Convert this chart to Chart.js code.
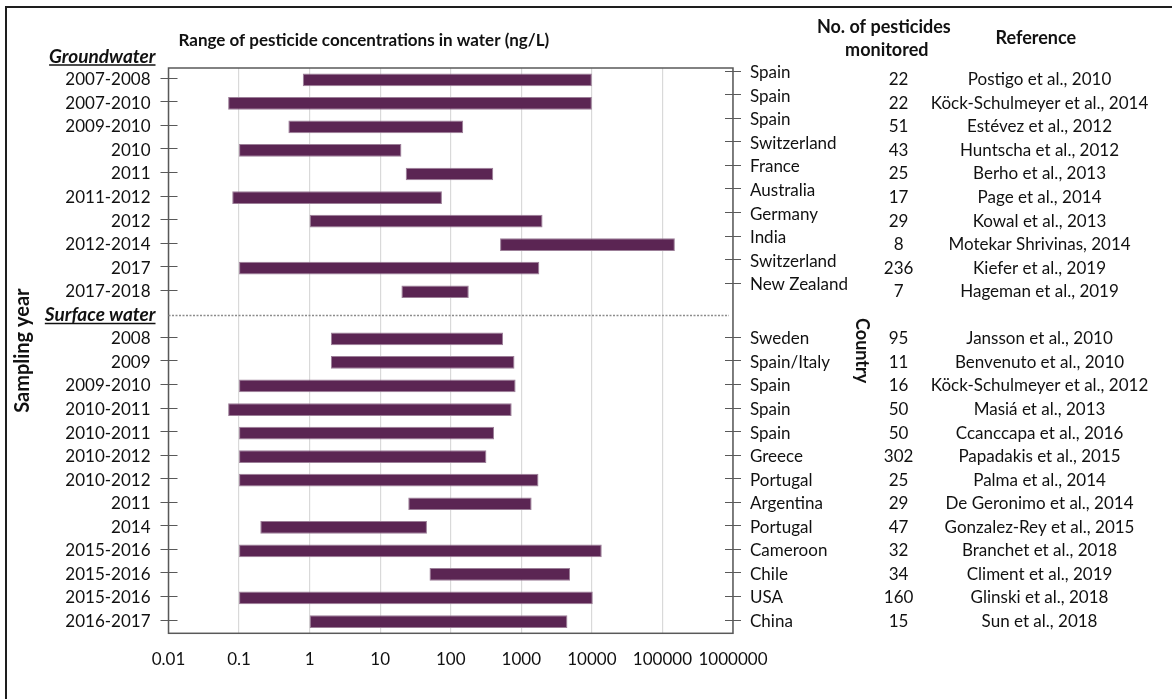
<!DOCTYPE html>
<html>
<head>
<meta charset="utf-8">
<script src="https://cdn.jsdelivr.net/npm/chart.js@4.4.1/dist/chart.umd.min.js"></script>
<style>
  html, body { margin: 0; padding: 0; background: #fff; }
  #wrap { width: 1172px; height: 699px; }
</style>
</head>
<body>
<div id="wrap"><canvas id="c" width="1172" height="699"></canvas></div>
<script>
// ---- Groundwater studies ----
const gwYears = ['2007-2008', '2007-2010', '2009-2010', '2010', '2011', '2011-2012', '2012', '2012-2014', '2017', '2017-2018'];
const gwCountries = ['Spain', 'Spain', 'Spain', 'Switzerland', 'France', 'Australia', 'Germany', 'India', 'Switzerland', 'New Zealand'];
const gwCounts = [22, 22, 51, 43, 25, 17, 29, 8, 236, 7];
const gwRefs = ['Postigo et al., 2010', 'Köck-Schulmeyer et al., 2014', 'Estévez et al., 2012', 'Huntscha et al., 2012',
  'Berho et al., 2013', 'Page et al., 2014', 'Kowal et al., 2013', 'Motekar Shrivinas, 2014', 'Kiefer et al., 2019', 'Hageman et al., 2019'];
const gwMin = [0.8, 0.07, 0.5, 0.1, 23, 0.08, 1, 500, 0.1, 20];
const gwMax = [10000, 10000, 150, 20, 400, 75, 2000, 150000, 1800, 180];

// ---- Surface water studies ----
const swYears = ['2008', '2009', '2009-2010', '2010-2011', '2010-2011', '2010-2012', '2010-2012', '2011', '2014', '2015-2016', '2015-2016', '2015-2016', '2016-2017'];
const swCountries = ['Sweden', 'Spain/Italy', 'Spain', 'Spain', 'Spain', 'Greece', 'Portugal', 'Argentina', 'Portugal', 'Cameroon', 'Chile', 'USA', 'China'];
const swCounts = [95, 11, 16, 50, 50, 302, 25, 29, 47, 32, 34, 160, 15];
const swRefs = ['Jansson et al., 2010', 'Benvenuto et al., 2010', 'Köck-Schulmeyer et al., 2012', 'Masiá et al., 2013',
  'Ccanccapa et al., 2016', 'Papadakis et al., 2015', 'Palma et al., 2014', 'De Geronimo et al., 2014', 'Gonzalez-Rey et al., 2015',
  'Branchet et al., 2018', 'Climent et al., 2019', 'Glinski et al., 2018', 'Sun et al., 2018'];
const swMin = [2, 2, 0.1, 0.07, 0.1, 0.1, 0.1, 25, 0.2, 0.1, 50, 0.1, 1];
const swMax = [550, 800, 830, 730, 410, 320, 1750, 1400, 46, 13800, 4900, 10300, 4500];

// ---- Axis text ----
const xTickLabels = ['0.01', '0.1', '1', '10', '100', '1000', '10000', '100000', '1000000'];
const groupTitles = ['Groundwater', 'Surface water'];
const chartTitle = 'Range of pesticide concentrations in water (ng/L)';
const yTitle = 'Sampling year';
const countryTitle = 'Country';
const countHeader = ['No. of pesticides', 'monitored'];
const refHeader = 'Reference';

// One category per study, with a divider row between the two groups
const sepIndex = gwYears.length;
const years = [...gwYears, groupTitles[1], ...swYears];
const countries = [...gwCountries, '', ...swCountries];
const counts = [...gwCounts.map(String), '', ...swCounts.map(String)];
const refs = [...gwRefs, '', ...swRefs];
const ranges = [
  ...gwMin.map((m, i) => [m, gwMax[i]]),
  null,
  ...swMin.map((m, i) => [m, swMax[i]])
];
const xTickValues = xTickLabels.map(Number);

// The country axis sits a little higher than the rows in the groundwater block
const GW_COUNTRY_LIFT = 0.3;
const countryTicks = countries
  .map((c, i) => ({ label: c, value: i - (i < sepIndex ? GW_COUNTRY_LIFT : 0) }))
  .filter(t => t.label !== '');

const FAMILY = 'Lato, Carlito, "Open Sans", sans-serif';
const TEXT = '#111111';
const AXIS = '#595959';
const tickFont = { family: FAMILY, size: 17 };

const decorations = {
  id: 'decorations',
  beforeDraw(chart) {
    const ctx = chart.ctx;
    ctx.save();
    ctx.fillStyle = '#ffffff';
    ctx.fillRect(0, 0, chart.width, chart.height);
    // outer frame (top and left edges)
    ctx.strokeStyle = '#1e1e1e';
    ctx.lineWidth = 2;
    ctx.beginPath();
    ctx.moveTo(6, chart.height);
    ctx.lineTo(6, 7);
    ctx.lineTo(chart.width, 7);
    ctx.stroke();
    ctx.restore();
  },
  afterDraw(chart) {
    const ctx = chart.ctx;
    const a = chart.chartArea;
    const y = chart.scales.y;
    const y2 = chart.scales.y2;
    const y3 = chart.scales.y3;
    const y4 = chart.scales.y4;
    ctx.save();

    // plot box
    ctx.strokeStyle = AXIS;
    ctx.lineWidth = 1.5;
    ctx.strokeRect(a.left, a.top, a.right - a.left, a.bottom - a.top);

    // tick marks crossing the left axis (one per study row)
    ctx.lineWidth = 1.2;
    ctx.beginPath();
    for (let i = 0; i < years.length; i++) {
      if (i === sepIndex) continue;
      const py = Math.round(y.getPixelForTick(i)) - 1.5;
      ctx.moveTo(a.left - 8, py); ctx.lineTo(a.left + 9, py);
    }
    // tick marks crossing the right (country) axis
    for (let k = 0; k < y2.ticks.length; k++) {
      const py = Math.round(y2.getPixelForTick(k)) - 1.5;
      ctx.moveTo(a.right - 8, py); ctx.lineTo(a.right + 8, py);
    }
    ctx.stroke();

    // dotted divider between groundwater and surface water
    const sy = Math.round(y.getPixelForTick(sepIndex)) + 0.5;
    ctx.strokeStyle = '#8c8c8c';
    ctx.lineWidth = 1.3;
    ctx.setLineDash([2, 1.5]);
    ctx.beginPath();
    ctx.moveTo(a.left, sy); ctx.lineTo(a.right - 4, sy);
    ctx.stroke();
    ctx.setLineDash([]);

    // group headings (bold italic, underlined)
    ctx.fillStyle = TEXT;
    ctx.strokeStyle = TEXT;
    ctx.font = 'italic bold 19px ' + FAMILY;
    ctx.textAlign = 'right';
    ctx.textBaseline = 'alphabetic';
    const hx = a.left - 13;
    const heads = [[groupTitles[0], a.top - 5.5], [groupTitles[1], sy + 5.5]];
    ctx.lineWidth = 1.4;
    heads.forEach(([t, by]) => {
      ctx.fillText(t, hx, by);
      const w = ctx.measureText(t).width;
      ctx.beginPath();
      ctx.moveTo(hx - w, by + 2.5); ctx.lineTo(hx, by + 2.5);
      ctx.stroke();
    });

    // chart and column headers
    ctx.font = 'bold 17px ' + FAMILY;
    ctx.textBaseline = 'middle';
    ctx.textAlign = 'left';
    ctx.fillText(chartTitle, a.left + 10, a.top - 27);
    ctx.font = 'bold 18px ' + FAMILY;
    ctx.textAlign = 'center';
    const cx3 = y3.left + 14;
    ctx.fillText(countHeader[0], cx3 - 7, 27);
    ctx.fillText(countHeader[1], cx3 - 4, 50);
    const cx4 = y4.left + 121;
    ctx.fillText(refHeader, cx4 - 2, 38);
    ctx.restore();
  }
};

function rightColumn(labels, opts) {
  return Object.assign({
    type: 'category',
    labels: labels,
    position: 'right',
    offset: true,
    grid: { display: false, drawTicks: false },
    border: { display: false },
  }, opts);
}

function build() {
  new Chart(document.getElementById('c'), {
    type: 'bar',
    data: {
      labels: years,
      datasets: [{
        data: ranges,
        backgroundColor: '#5b2553',
        borderColor: '#9c7f98',
        borderWidth: 1,
        borderSkipped: false,
        barPercentage: 0.54,
        categoryPercentage: 1
      }]
    },
    options: {
      indexAxis: 'y',
      responsive: false,
      animation: false,
      events: [],
      layout: { padding: { top: 68, bottom: 8, left: 8, right: 8 } },
      plugins: { legend: { display: false }, tooltip: { enabled: false } },
      scales: {
        x: {
          type: 'logarithmic',
          min: 0.01,
          max: 1e6,
          afterBuildTicks: (s) => { s.ticks = xTickValues.map(v => ({ value: v })); },
          ticks: {
            callback: (v, i) => xTickLabels[i],
            font: tickFont, color: TEXT, padding: 16,
            autoSkip: false, maxRotation: 0
          },
          grid: { color: '#d9d9d9', lineWidth: 1.2, drawTicks: false },
          border: { display: false },
          afterFit: (s) => { s.height = 57.7; }
        },
        y: {
          type: 'category',
          position: 'left',
          offset: true,
          grid: { display: false, drawTicks: false },
          border: { display: false },
          ticks: {
            font: tickFont, color: TEXT, padding: 18, autoSkip: false,
            callback: (v, i) => (i === sepIndex ? '' : years[i])
          },
          title: {
            display: true, text: yTitle, color: TEXT,
            font: { family: FAMILY, size: 20, weight: 'bold' },
            padding: { top: 3, bottom: 4 }
          },
          afterFit: (s) => { s.width = 160.5; }
        },
        y2: {
          type: 'linear',
          position: 'right',
          weight: 1,
          offset: false,
          bounds: 'data',
          grace: 0,
          min: -0.5,
          max: years.length - 0.5,
          reverse: true,
          afterBuildTicks: (s) => { s.ticks = countryTicks.map(t => ({ value: t.value })); },
          grid: { display: false, drawTicks: false, offset: false },
          border: { display: false },
          ticks: {
            font: tickFont, color: TEXT, padding: 17, autoSkip: false, crossAlign: 'near',
            callback: (v, i) => countryTicks[i].label
          },
          title: {
            display: true, text: countryTitle, color: TEXT,
            font: { family: FAMILY, size: 18, weight: 'bold' },
            padding: { top: 4, bottom: 4 }
          },
          afterFit: (s) => { s.width = 143.8; }
        },
        y3: rightColumn(counts, {
          weight: 2,
          ticks: { font: tickFont, color: TEXT, padding: 7, autoSkip: false, crossAlign: 'center' },
          afterFit: (s) => { s.width = 40; }
        }),
        y4: rightColumn(refs, {
          weight: 3,
          ticks: { font: tickFont, color: TEXT, padding: 14, autoSkip: false, crossAlign: 'center' },
          afterFit: (s) => { s.width = 247.2; }
        })
      }
    },
    plugins: [decorations]
  });
}

const fontLoads = [
  '17px Lato', 'bold 17px Lato', 'bold 18px Lato', 'bold 20px Lato', 'italic bold 19px Lato'
].map(f => document.fonts.load(f).catch(() => null));
Promise.all(fontLoads).then(build, build);
</script>
</body>
</html>
